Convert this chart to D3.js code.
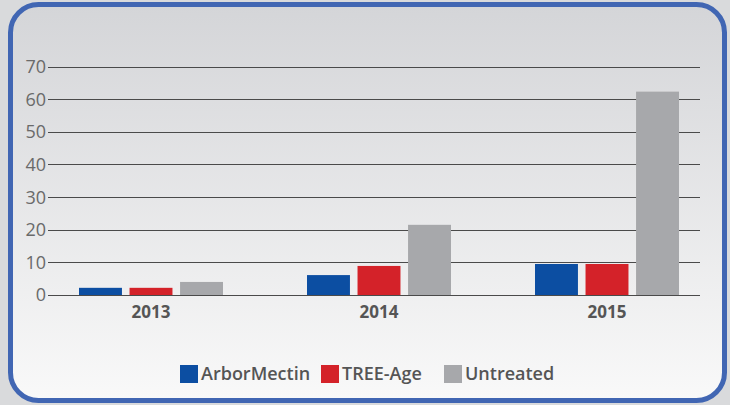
<!DOCTYPE html>
<html>
<head>
<meta charset="utf-8">
<script src="https://cdn.jsdelivr.net/npm/d3@7"></script>
<style>
  body { margin: 0; background: #d9dadc; }
  svg { display: block; font-family: "Open Sans", sans-serif; }
</style>
</head>
<body>
<div id="chart"></div>
<script>
// データ
const years = ["2013", "2014", "2015"];
const seriesNames = ["ArborMectin", "TREE-Age", "Untreated"];
const arborMectin = [2.2, 6.1, 9.5];
const treeAge = [2.2, 8.9, 9.5];
const untreated = [4.0, 21.5, 62.3];
const yTicks = [0, 10, 20, 30, 40, 50, 60, 70];
const colors = ["#0c4ea2", "#d42229", "#a7a8ab"];

const width = 730, height = 405;
const seriesValues = [arborMectin, treeAge, untreated];

const svg = d3.select("#chart").append("svg")
    .attr("width", width)
    .attr("height", height);

// 背景グラデーション
const defs = svg.append("defs");
const grad = defs.append("linearGradient")
    .attr("id", "bg").attr("x1", 0).attr("y1", 0).attr("x2", 0).attr("y2", 1);
grad.append("stop").attr("offset", "0%").attr("stop-color", "#d4d5d8");
grad.append("stop").attr("offset", "100%").attr("stop-color", "#f9f9f9");

svg.append("rect")
    .attr("x", 10.5).attr("y", 4.5)
    .attr("width", 714).attr("height", 396)
    .attr("rx", 28).attr("ry", 28)
    .style("fill", "url(#bg)")
    .style("stroke", "#4166b3")
    .style("stroke-width", 5);

// スケール
const y = d3.scaleLinear().domain([0, 70]).range([295, 66.5]);
const x0 = d3.scaleBand().domain(years).range([37, 721]);
const x1 = d3.scaleBand().domain(seriesNames).range([0, 144]).paddingInner(0.15);
const gridLeft = 48, gridRight = 700;

// グリッド線
const grid = svg.append("g");
grid.selectAll("line")
    .data(yTicks)
    .enter()
    .append("line")
    .attr("x1", gridLeft)
    .attr("x2", gridRight)
    .attr("y1", d => Math.round(y(d)) + 0.5)
    .attr("y2", d => Math.round(y(d)) + 0.5)
    .style("stroke", "#4a4a4a")
    .style("stroke-width", 1.2);

// Y軸ラベル
svg.append("g").selectAll("text")
    .data(yTicks)
    .enter()
    .append("text")
    .attr("x", 46)
    .attr("y", d => y(d))
    .attr("dy", "0.36em")
    .attr("text-anchor", "end")
    .style("font-size", "18px")
    .style("fill", "#6a6a6a")
    .text(d => d);

// 棒
const groups = svg.append("g").selectAll("g")
    .data(years)
    .enter()
    .append("g")
    .attr("transform", d => `translate(${x0(d) + (x0.bandwidth() - 144) / 2},0)`);

groups.selectAll("rect")
    .data((d, i) => seriesNames.map((s, j) => ({ series: s, value: seriesValues[j][i], color: colors[j] })))
    .enter()
    .append("rect")
    .attr("x", d => x1(d.series))
    .attr("width", x1.bandwidth())
    .attr("y", d => y(d.value))
    .attr("height", d => y(0) - y(d.value))
    .style("fill", d => d.color);

// X軸ラベル
svg.append("g").selectAll("text")
    .data(years)
    .enter()
    .append("text")
    .attr("x", d => x0(d) + x0.bandwidth() / 2)
    .attr("y", 318)
    .attr("text-anchor", "middle")
    .style("font-size", "17px")
    .style("font-weight", "bold")
    .style("fill", "#555")
    .text(d => d);

// 凡例
const legendX = [180, 321, 444];
const legend = svg.append("g").selectAll("g")
    .data(seriesNames)
    .enter()
    .append("g")
    .attr("transform", (d, i) => `translate(${legendX[i]},365)`);

legend.append("rect")
    .attr("width", 18).attr("height", 18)
    .style("fill", (d, i) => colors[i]);

legend.append("text")
    .attr("x", 21)
    .attr("y", 14.5)
    .style("font-size", "18px")
    .style("font-weight", 600)
    .style("fill", "#555")
    .text(d => d);
</script>
</body>
</html>
